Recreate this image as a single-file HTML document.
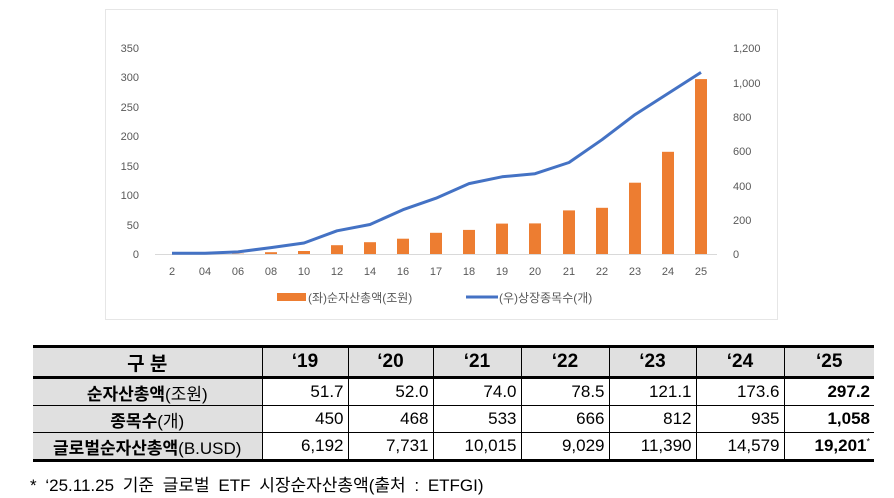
<!DOCTYPE html>
<html><head><meta charset="utf-8"><style>
body{margin:0;width:894px;height:498px;background:#fff;overflow:hidden;font-family:"Liberation Sans","Noto Sans CJK KR",sans-serif;}
.chart{position:absolute;left:105px;top:9px;width:673px;height:311px;border:1px solid #e6e6e6;box-sizing:border-box;}
table{position:absolute;left:33px;top:345px;border-collapse:collapse;font-size:17px;table-layout:fixed;width:841px;}
td{border:1px solid #000;height:26px;padding:0 4px;text-align:right;overflow:visible;white-space:nowrap;}
tr.h td{background:#e0e0e0;text-align:center;font-weight:bold;height:28px;font-size:19px;}
td.l{background:#e0e0e0;text-align:center;}
td.l b{font-weight:bold}
table{border-top:3px solid #000;border-bottom:3px solid #000;}
tr.h td{border-bottom:3px solid #000;}
td:first-child{border-left:none}td:last-child{border-right:none}
.fn{position:absolute;left:30px;top:471px;font-size:17px;word-spacing:4px;}
</style></head><body>
<div class="chart"></div>
<svg width="894" height="330" style="position:absolute;left:0;top:0" font-family="Liberation Sans, Noto Sans CJK KR, sans-serif" font-size="11" fill="#595959">
<g text-anchor="end">
<text x="139" y="52">350</text><text x="139" y="81">300</text><text x="139" y="111">250</text><text x="139" y="140">200</text><text x="139" y="170">150</text><text x="139" y="199">100</text><text x="139" y="229">50</text><text x="139" y="258">0</text></g>
<g text-anchor="start">
<text x="733" y="52">1,200</text><text x="733" y="87">1,000</text><text x="733" y="121">800</text><text x="733" y="155">600</text><text x="733" y="190">400</text><text x="733" y="224">200</text><text x="733" y="258">0</text></g>
<line x1="155" y1="254.5" x2="717" y2="254.5" stroke="#d9d9d9"/>
<g fill="#ed7d31">
<rect x="166" y="254" width="12" height="0"/><rect x="199" y="254" width="12" height="0"/><rect x="232" y="253.7" width="12" height="0.3"/><rect x="265" y="252.2" width="12" height="1.8"/><rect x="298" y="251" width="12" height="3"/><rect x="331" y="245.2" width="12" height="8.8"/><rect x="364" y="242.2" width="12" height="11.8"/><rect x="397" y="238.7" width="12" height="15.3"/><rect x="430" y="232.8" width="12" height="21.2"/><rect x="463" y="229.9" width="12" height="24.1"/><rect x="496" y="223.6" width="12" height="30.4"/><rect x="529" y="223.4" width="12" height="30.6"/><rect x="563" y="210.4" width="12" height="43.6"/><rect x="596" y="207.8" width="12" height="46.2"/><rect x="629" y="182.7" width="12" height="71.3"/><rect x="662" y="151.8" width="12" height="102.2"/><rect x="695" y="79.1" width="12" height="174.9"/></g>
<polyline fill="none" stroke="#4472c4" stroke-width="3" stroke-linejoin="round" points="172,253.3 205,253.3 238,251.9 271,247.6 304,243 337,230.8 370,224.5 403,209.7 436,198.2 469,183.6 502,176.8 535,173.7 569,162.5 602,139.7 635,114.6 668,93.5 701,72.4"/>
<g text-anchor="middle">
<text x="172" y="275">2</text><text x="205" y="275">04</text><text x="238" y="275">06</text><text x="271" y="275">08</text><text x="304" y="275">10</text><text x="337" y="275">12</text><text x="370" y="275">14</text><text x="403" y="275">16</text><text x="436" y="275">17</text><text x="469" y="275">18</text><text x="502" y="275">19</text><text x="535" y="275">20</text><text x="569" y="275">21</text><text x="602" y="275">22</text><text x="635" y="275">23</text><text x="668" y="275">24</text><text x="701" y="275">25</text></g>
<rect x="277" y="293" width="29" height="8" fill="#ed7d31"/>
<text x="308" y="302" font-size="12">(좌)순자산총액(조원)</text>
<line x1="466" y1="297" x2="498" y2="297" stroke="#4472c4" stroke-width="3"/>
<text x="499" y="302" font-size="12">(우)상장종목수(개)</text>
</svg>
<table>
<colgroup><col style="width:229px"><col style="width:86px"><col style="width:85px"><col style="width:88px"><col style="width:88px"><col style="width:87px"><col style="width:88px"><col style="width:90px"></colgroup>
<tr class="h"><td>구 분</td><td>‘19</td><td>‘20</td><td>‘21</td><td>‘22</td><td>‘23</td><td>‘24</td><td>‘25</td></tr>
<tr><td class="l"><b>순자산총액</b>(조원)</td><td>51.7</td><td>52.0</td><td>74.0</td><td>78.5</td><td>121.1</td><td>173.6</td><td><b>297.2</b></td></tr>
<tr><td class="l"><b>종목수</b>(개)</td><td>450</td><td>468</td><td>533</td><td>666</td><td>812</td><td>935</td><td><b>1,058</b></td></tr>
<tr><td class="l"><b>글로벌순자산총액</b>(B.USD)</td><td>6,192</td><td>7,731</td><td>10,015</td><td>9,029</td><td>11,390</td><td>14,579</td><td><b>19,201</b><sup style="font-size:9px;line-height:0">*</sup></td></tr>
</table>
<div class="fn">* ‘25.11.25 기준 글로벌 ETF 시장순자산총액(출처 : ETFGI)</div>
</body></html>
